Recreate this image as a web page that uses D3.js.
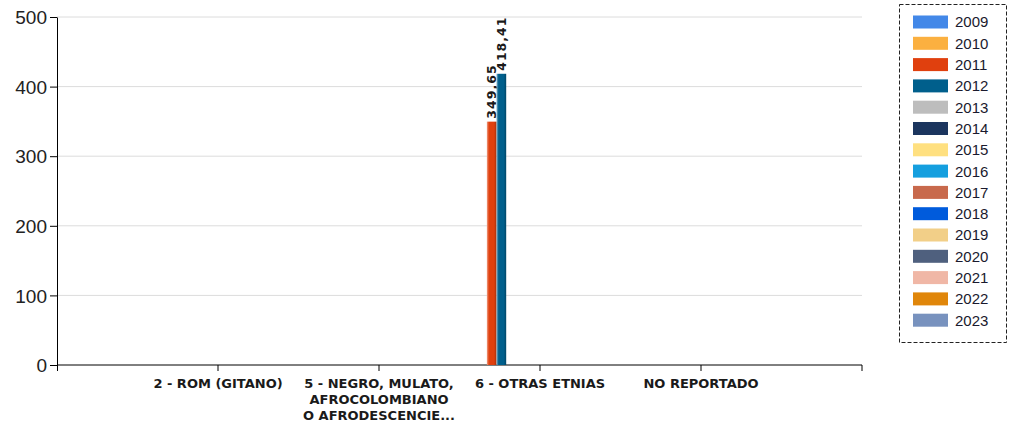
<!DOCTYPE html>
<html>
<head>
<meta charset="utf-8">
<script src="https://cdn.jsdelivr.net/npm/d3@7"></script>
<style>
  body { margin: 0; background: #fff; }
  svg { display: block; }
</style>
</head>
<body>
<div id="chart"></div>
<script>
// categories on the x axis (label lines split by \n)
const categories = ["2 - ROM (GITANO)", "5 - NEGRO, MULATO,\nAFROCOLOMBIANO\nO AFRODESCENCIE...", "6 - OTRAS ETNIAS", "NO REPORTADO"];
const years = ["2009","2010","2011","2012","2013","2014","2015","2016","2017","2018","2019","2020","2021","2022","2023"];
const colors = ["#4388e8","#fbb040","#e0400e","#005f8c","#bdbdbd","#1b355e","#ffe080","#159fdf","#c8694c","#005bdc","#f2cf88","#4f607e","#f0b7a6","#e0860a","#7892be"];
// only 2011 and 2012 carry values, on "6 - OTRAS ETNIAS"
const values2011 = [null, null, 349.65, null];
const values2012 = [null, null, 418.41, null];
const yTicks = [0, 100, 200, 300, 400, 500];

const width = 1010, height = 425;
const plot = {left: 57, right: 862, top: 17, bottom: 365};

const svg = d3.select("#chart").append("svg")
  .attr("width", width).attr("height", height);

const fmt = v => d3.format(".2f")(v).replace(".", ",");

// table built from arrays
const table = categories.map((c, i) => {
  const row = {cat: c};
  years.forEach(y => row[y] = null);
  row["2011"] = values2011[i];
  row["2012"] = values2012[i];
  return row;
});

const step = (plot.right - plot.left) / 5;
const x = d3.scaleBand()
  .domain(categories)
  .range([plot.left + step / 2, plot.right - step / 2]);

const xSub = d3.scaleBand()
  .domain(years)
  .range([x.bandwidth() * 0.05, x.bandwidth() * 0.95]);

const y = d3.scaleLinear().domain([0, 500]).range([plot.bottom, plot.top]);

const color = d3.scaleOrdinal().domain(years).range(colors);

// gradients for the shaded bars
const defs = svg.append("defs");
years.forEach(yr => {
  const c = d3.color(color(yr));
  const g = defs.append("linearGradient").attr("id", "g" + yr)
    .attr("x1", "0%").attr("x2", "100%").attr("y1", "0%").attr("y2", "0%");
  g.append("stop").attr("offset", "0%").attr("stop-color", d3.interpolateRgb(c, "#fff")(0.5));
  g.append("stop").attr("offset", "22%").attr("stop-color", c.formatHex());
  g.append("stop").attr("offset", "75%").attr("stop-color", c.formatHex());
  g.append("stop").attr("offset", "100%").attr("stop-color", c.darker(0.9).formatHex());
});

// grid lines
svg.append("g")
  .selectAll("line")
  .data(yTicks.filter(d => d > 0))
  .join("line")
    .attr("x1", plot.left).attr("x2", plot.right)
    .attr("y1", d => y(d)).attr("y2", d => y(d))
    .attr("stroke", "#dcdcdc").attr("stroke-width", 1);

// Y axis
const yAxis = svg.append("g")
  .attr("transform", `translate(${plot.left},0)`)
  .call(d3.axisLeft(y).tickValues(yTicks).tickSize(7).tickSizeOuter(0));
yAxis.select(".domain").attr("stroke", "#000");
yAxis.selectAll(".tick line").attr("stroke", "#000");
yAxis.selectAll("text")
  .attr("font-family", "'Liberation Sans', Arial, sans-serif")
  .attr("font-size", "19px")
  .attr("fill", "#222")
  .attr("x", -10)
  .attr("dy", "0.35em");

// X axis
const xAxis = svg.append("g")
  .attr("transform", `translate(0,${plot.bottom})`)
  .call(d3.axisBottom(x).tickSize(6).tickSizeOuter(0).tickFormat(""));
xAxis.select(".domain")
  .attr("d", `M${plot.left},0H${plot.right}V6`)
  .attr("stroke", "#000");
xAxis.selectAll(".tick line").attr("stroke", "#000");
xAxis.append("line")
  .attr("x1", plot.left + 0.5).attr("x2", plot.left + 0.5)
  .attr("y1", 0).attr("y2", 6).attr("stroke", "#000");

xAxis.selectAll(".tick").each(function(d) {
  const t = d3.select(this).append("text")
    .attr("fill", "#1a1a1a")
    .attr("font-family", "'DejaVu Sans', Verdana, sans-serif")
    .attr("font-weight", "bold")
    .attr("font-size", "13px")
    .attr("text-anchor", "middle")
    .attr("y", 23);
  d.split("\n").forEach((line, i) => {
    t.append("tspan").attr("x", 0).attr("dy", i === 0 ? 0 : 16).text(line);
  });
});

// bars
const groups = svg.append("g")
  .selectAll("g")
  .data(table)
  .join("g")
    .attr("transform", d => `translate(${x(d.cat)},0)`);

const bars = groups.selectAll("g")
  .data(d => years.map(k => ({key: k, value: d[k]})).filter(e => e.value != null))
  .join("g");

bars.append("rect")
  .attr("x", d => xSub(d.key))
  .attr("y", d => y(d.value))
  .attr("width", xSub.bandwidth())
  .attr("height", d => y(0) - y(d.value))
  .attr("fill", d => `url(#g${d.key})`);

bars.append("text")
  .attr("transform", d => `translate(${xSub(d.key) + xSub.bandwidth() / 2 + 4.5},${y(d.value) - 3}) rotate(-90)`)
  .attr("font-family", "'DejaVu Sans', Verdana, sans-serif")
  .attr("font-weight", "bold")
  .attr("font-size", "12.5px")
  .attr("letter-spacing", "1px")
  .attr("fill", "#1a1a1a")
  .text(d => fmt(d.value));

// legend
const legend = svg.append("g");
legend.append("rect")
  .attr("x", 899.5).attr("y", 4.5)
  .attr("width", 107).attr("height", 338)
  .attr("fill", "none").attr("stroke", "#222")
  .attr("stroke-dasharray", "4,2");

const items = legend.selectAll("g.item")
  .data(years)
  .join("g")
    .attr("class", "item")
    .attr("transform", (d, i) => `translate(913,${22 + i * 21.3})`);
items.append("rect")
  .attr("x", 0).attr("y", -6.5)
  .attr("width", 35).attr("height", 13)
  .attr("fill", d => color(d));
items.append("text")
  .attr("x", 42).attr("dy", "0.36em")
  .attr("font-family", "'Liberation Sans', Arial, sans-serif")
  .attr("font-size", "15px")
  .attr("fill", "#1a1a2e")
  .text(d => d);
</script>
</body>
</html>
